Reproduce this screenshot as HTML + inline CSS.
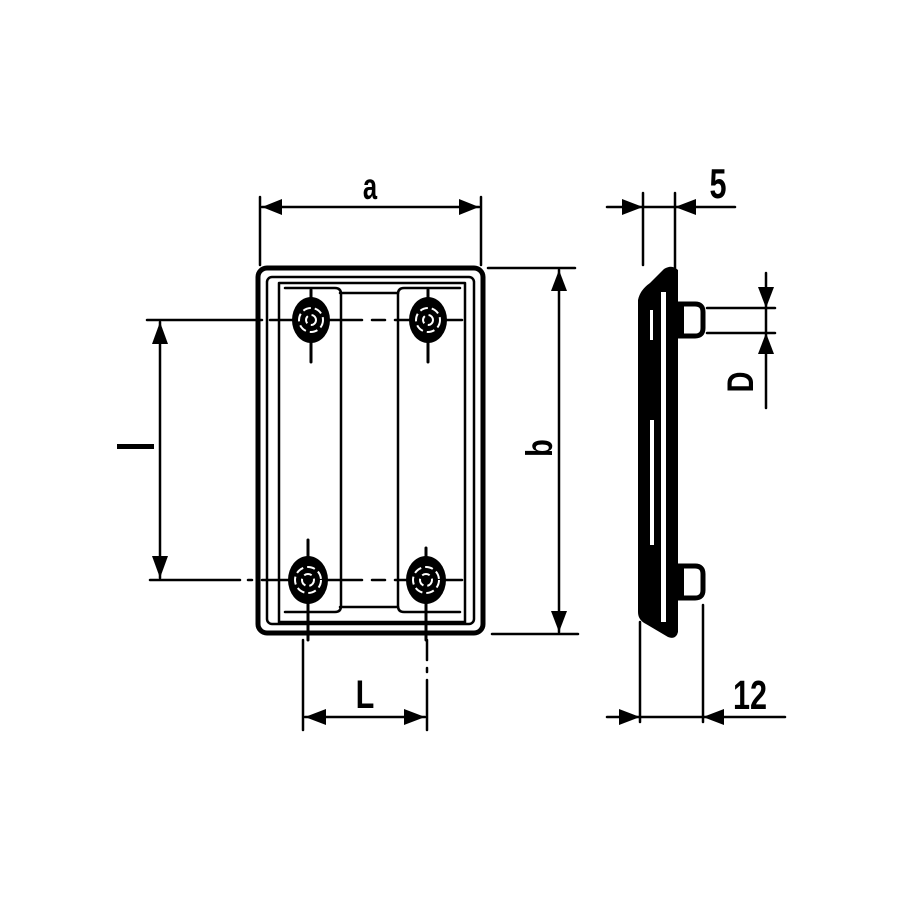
<!DOCTYPE html>
<html><head><meta charset="utf-8"><style>html,body{margin:0;padding:0;background:#fff}svg{display:block}</style></head>
<body>
<svg width="900" height="900" viewBox="0 0 900 900" xmlns="http://www.w3.org/2000/svg">
<rect width="900" height="900" fill="#fff"/>
<g stroke="#000" fill="none" stroke-linecap="round">
  <rect x="258" y="268" width="225" height="365" rx="9" stroke-width="5"/>
  <rect x="267" y="277" width="207" height="347" rx="5" stroke-width="2.5"/>
  <path d="M279 283 L465 283 M279 283 L279 622 L465 622 L465 283" stroke-width="2.5"/>
  <path d="M285 288 L335 288 Q341 288 341 294 L341 606 Q341 612 335 612 L285 612" stroke-width="2.5"/>
  <path d="M340 293 L398 293 M340 607 L398 607" stroke-width="2.5"/>
  <path d="M460 288 L404 288 Q398 288 398 294 L398 606 Q398 612 404 612 L460 612" stroke-width="2.5"/>
  <path d="M147 320 L262 320 M270 320 L362 320 M372 320 L385 320 M395 320 L462 320" stroke-width="2.5"/>
  <path d="M150 580 L240 580 M248 580 L252 580 M262 580 L362 580 M372 580 L385 580 M395 580 L462 580" stroke-width="2.5"/>
  <path d="M311 290 L311 362 M428 290 L428 362 M308 540 L308 640 M426 548 L426 640" stroke-width="3"/>
  <path d="M303 640 L303 730 M427 640 L427 660 M427 668 L427 672 M427 680 L427 730" stroke-width="2.5"/>
  <path d="M260 197 L260 265 M481 197 L481 265 M262 207 L479 207" stroke-width="2.5"/>
  <path d="M488 268 L575 268 M492 634 L578 634 M559 270 L559 632" stroke-width="2.5"/>
  <path d="M160 322 L160 578" stroke-width="2.5"/>
  <path d="M305 717 L425 717" stroke-width="2.5"/>
  <path d="M643 193 L643 265 M675 193 L675 268 M607 207 L735 207" stroke-width="2.5"/>
  <path d="M640 622 L640 722 M703 605 L703 722 M607 717 L785 717" stroke-width="2.5"/>
  <path d="M766 273 L766 408 M707 308 L775 308 M707 333 L775 333" stroke-width="2.5"/>
</g>
<g fill="#000">
  <polygon points="262,207 282,199 282,215"/>
  <polygon points="479,207 459,199 459,215"/>
  <polygon points="559,270 551,291 567,291"/>
  <polygon points="559,632 551,611 567,611"/>
  <polygon points="160,322 152,344 168,344"/>
  <polygon points="160,578 152,556 168,556"/>
  <polygon points="305,717 326,709 326,725"/>
  <polygon points="425,717 404,709 404,725"/>
  <polygon points="643,207 622,199 622,215"/>
  <polygon points="675,207 696,199 696,215"/>
  <polygon points="640,717 619,709 619,725"/>
  <polygon points="703,717 724,709 724,725"/>
  <polygon points="766,308 758,287 774,287"/>
  <polygon points="766,333 758,354 774,354"/>
</g>
<g>
  <ellipse cx="311" cy="320" rx="19" ry="23" fill="#000"/>
  <ellipse cx="428" cy="320" rx="19" ry="23" fill="#000"/>
  <ellipse cx="308" cy="580" rx="20" ry="24" fill="#000"/>
  <ellipse cx="426" cy="580" rx="20" ry="24" fill="#000"/>
  <g fill="none" stroke="#fff" stroke-width="2" stroke-dasharray="8 4">
    <circle cx="311" cy="320" r="12"/><circle cx="311" cy="320" r="5"/>
    <circle cx="428" cy="320" r="12"/><circle cx="428" cy="320" r="5"/>
    <circle cx="308" cy="580" r="13"/><circle cx="308" cy="580" r="6"/>
    <circle cx="426" cy="580" r="13"/><circle cx="426" cy="580" r="6"/>
  </g>
</g>
<path d="M638 300 Q640 290 650 283 L664 269 Q672 264 678 270 L678 632 Q676 640 668 637 L646 624 Q638 620 638 612 Z" fill="#000"/>
<rect x="661" y="292" width="5" height="330" fill="#fff"/>
<rect x="650" y="420" width="4" height="125" fill="#fff"/>
<rect x="650" y="310" width="3" height="30" fill="#fff"/>
<g fill="none" stroke="#000" stroke-width="5">
  <path d="M678 304 L695 304 Q703 304 703 312 L703 328 Q703 336 695 336 L678 336"/>
  <path d="M678 566 L695 566 Q703 566 703 574 L703 590 Q703 598 695 598 L678 598"/>
</g>
<g fill="#000"><rect x="676" y="306" width="8" height="28"/><rect x="676" y="568" width="8" height="28"/></g>
<g font-family="Liberation Sans, sans-serif" font-weight="bold" fill="#000">
  <text transform="translate(370,199) scale(0.8,1.15)" font-size="32" text-anchor="middle">a</text>
  <text transform="translate(365,708) scale(0.85,1.1)" font-size="36" text-anchor="middle">L</text>
  <text transform="translate(718,198) scale(0.85,1.15)" font-size="36" text-anchor="middle">5</text>
  <text transform="translate(750,709) scale(0.85,1.12)" font-size="36" text-anchor="middle">12</text>
  <text transform="translate(552,448) rotate(-90) scale(0.85,1.1)" font-size="34" text-anchor="middle">b</text>
  <text transform="translate(753,382) rotate(-90) scale(0.85,1.1)" font-size="34" text-anchor="middle">D</text>
</g>
<rect x="117" y="444" width="37" height="5" fill="#000"/>
</svg>
</body></html>
